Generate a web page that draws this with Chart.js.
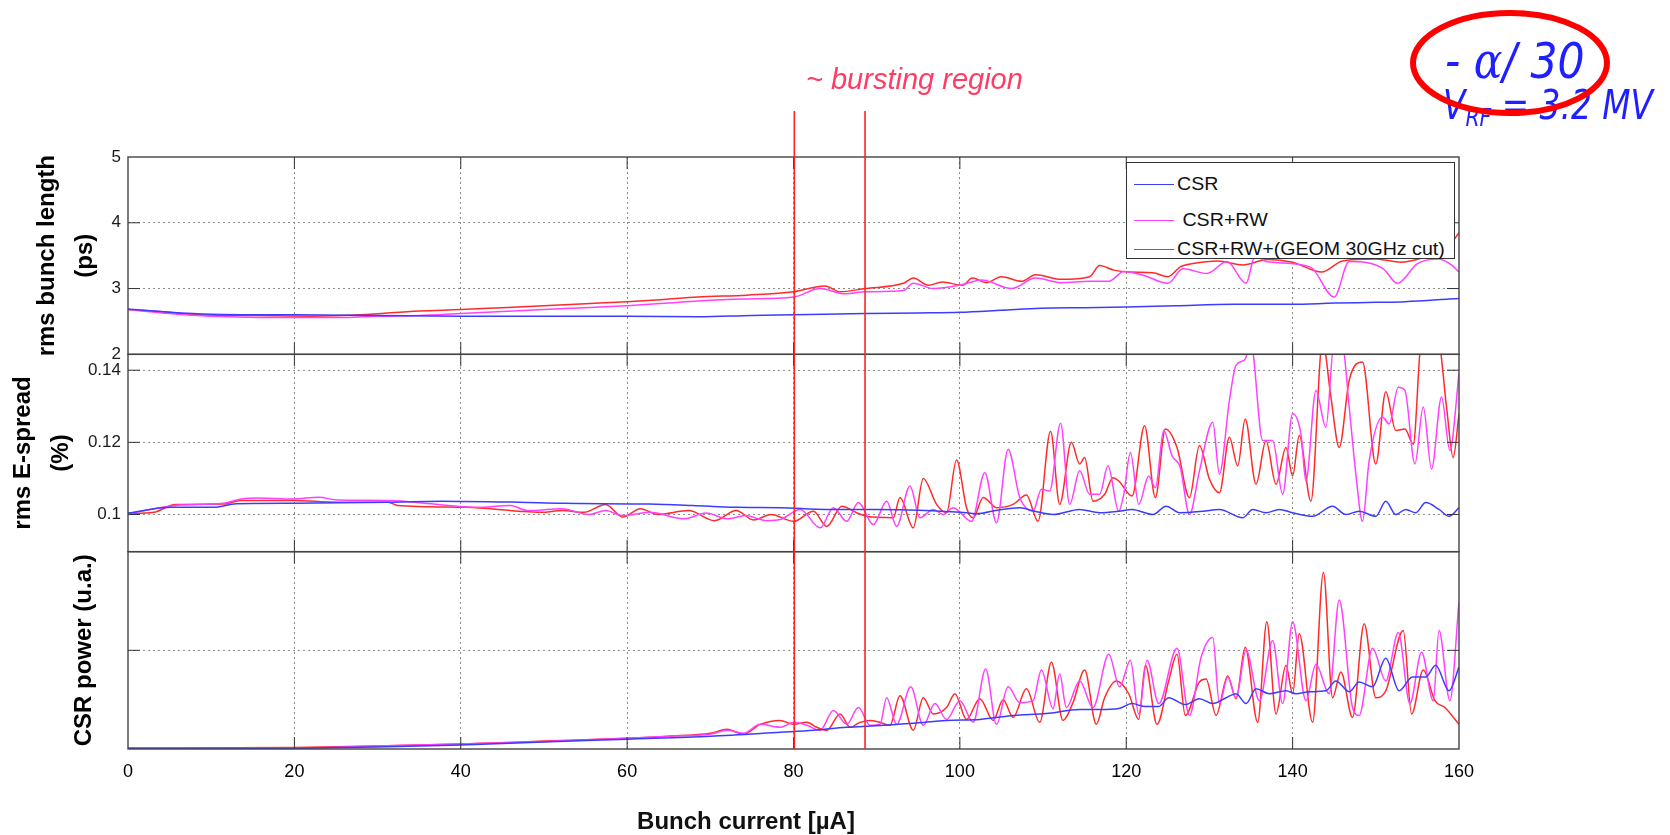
<!DOCTYPE html>
<html>
<head>
<meta charset="utf-8">
<script src="https://cdn.jsdelivr.net/npm/chart.js@4.4.0/dist/chart.umd.min.js"></script>
<style>
  html, body { margin: 0; padding: 0; background: #fff; }
  #wrap { position: relative; width: 1670px; height: 835px; overflow: hidden; }
  #myChart { position: absolute; left: 0; top: 0; }
  .txt { position: absolute; white-space: pre; }
  #burst { left: 806px; top: 63px; font: italic 29px 'Liberation Sans', Arial, sans-serif; line-height: 32px; color: #ff3c64; }
  #alpha { left: 1445px; top: 36px; font: italic 50px 'DejaVu Sans', sans-serif; line-height: 50px; color: #1f1fff; transform: scaleX(0.85); transform-origin: left center; }
  #alpha .g { font-family: 'DejaVu Serif', serif; }
  #vrf { left: 1443px; top: 85px; font: italic 40px 'DejaVu Sans', sans-serif; line-height: 40px; color: #1f1fff; transform: scaleX(0.82); transform-origin: left center; }
  #vrf sub { font-size: 0.62em; vertical-align: -0.3em; }
  #xTitle { left: 546px; top: 807px; width: 400px; text-align: center; font: bold 24px 'Liberation Sans', Arial, sans-serif; line-height: 28px; color: #111; }
  #legendBox { position: absolute; left: 1126px; top: 162px; width: 329px; height: 97px; box-sizing: border-box; border: 1px solid #333; background: #fff; }
  #legendBox .sw { position: absolute; left: 7px; width: 40px; height: 1px; }
  #legendBox .lt { position: absolute; left: 50px; font: 18px 'Liberation Sans', Arial, sans-serif; line-height: 20px; color: #111; white-space: pre; transform: scaleX(1.09); transform-origin: left center; }
  #ring { position: absolute; left: 0; top: 0; pointer-events: none; }
</style>
</head>
<body>
<div id="wrap">
  <canvas id="myChart" width="1670" height="835"></canvas>
  <div id="burst" class="txt">~ bursting region</div>
  <div id="alpha" class="txt">- <span class="g">α</span>/ 30</div>
  <div id="vrf" class="txt">V<sub>RF</sub> = 3.2 MV</div>
  <div id="xTitle" class="txt">Bunch current [µA]</div>
  <div id="legendBox"></div>
  <svg id="ring" width="1670" height="835"><ellipse cx="1510" cy="63" rx="97" ry="50" fill="none" stroke="#ff0000" stroke-width="6"/></svg>
</div>
<script>
// axis ticks and labels
const xTicks = [0, 20, 40, 60, 80, 100, 120, 140, 160];
const lenTicks = [2, 3, 4, 5];
const spreadTicks = [0.1, 0.12, 0.14];
const powerTicks = [1];
const seriesNames = ['CSR', ' CSR+RW', 'CSR+RW+(GEOM 30GHz cut)'];
const seriesColors = ['#3c3cff', '#ff40ff', '#ff2a2a'];
const burstLines = [80.1, 88.6];   // bunch current where the bursting region starts / ends
const burstTopLen = 5.7;           // lines reach a bit above the top panel

// [bunch current, rms bunch length (ps)]
const lenCSR = [[0,2.69],[5,2.64],[10,2.61],[20,2.60],[30,2.59],[40,2.58],[50,2.58],[60,2.58],[68.5,2.57],[75,2.59],[80,2.60],[88.6,2.62],[95,2.63],[100,2.64],[105,2.67],[109.7,2.70],[115,2.71],[120,2.72],[126,2.74],[133,2.76],[140,2.76],[145,2.78],[150,2.79],[153.5,2.80],[158.8,2.84],[160,2.85]];
const lenRW = [[0,2.68],[5,2.62],[10,2.58],[20,2.56],[26,2.56],[30,2.58],[35,2.59],[40,2.62],[45,2.65],[50,2.68],[55,2.71],[60,2.74],[65,2.78],[68.5,2.81],[74,2.84],[80,2.87],[83.2,3.0],[86.2,2.92],[88.6,2.95],[93.2,2.97],[94.4,3.08],[96.8,3.0],[100.3,3.06],[102.6,3.13],[106.2,3.0],[109.1,3.16],[112.1,3.09],[115.6,3.11],[117.9,3.11],[119.7,3.26],[122.1,3.20],[125,3.08],[126.8,3.30],[129.7,3.23],[132.1,3.41],[134.4,3.08],[135.5,3.5],[136.8,3.41],[142.1,3.33],[145,2.87],[146.8,3.41],[150.9,3.30],[152.6,3.08],[155,3.38],[157.5,3.45],[159.1,3.36],[160,3.25]];
const lenGeom = [[0,2.68],[5,2.64],[8,2.60],[15,2.59],[22,2.58],[28,2.60],[35,2.66],[40,2.68],[45,2.71],[50,2.74],[55,2.77],[60,2.80],[64,2.83],[68.5,2.87],[74.4,2.90],[80,2.95],[83.8,3.04],[85.6,2.95],[88.6,3.0],[93.2,3.08],[94.4,3.16],[96.2,3.05],[97.9,3.10],[100.3,3.05],[101.5,3.16],[103.2,3.09],[105,3.18],[107.4,3.11],[109.1,3.21],[112.1,3.14],[115.6,3.18],[116.8,3.35],[118.5,3.28],[120.3,3.25],[123.2,3.24],[125,3.18],[126.5,3.33],[128,3.38],[131,3.42],[134,3.36],[137,3.44],[140,3.40],[143.5,3.25],[146,3.42],[150,3.45],[153,3.40],[156,3.48],[158.5,3.6],[160,3.85]];

// [bunch current, rms energy spread (%)]
const spreadCSR = [[0,0.1004],[5.2,0.102],[10.4,0.102],[13,0.103],[19.8,0.1031],[31.3,0.1034],[37.6,0.1037],[47,0.1034],[52.2,0.1031],[62.7,0.1029],[67.9,0.1025],[73.1,0.102],[78.4,0.1019],[84,0.1014],[90,0.1014],[95,0.1012],[100.8,0.1005],[102,0.1002],[104.5,0.1012],[107.2,0.1019],[109,0.1009],[111.2,0.1],[114.4,0.1014],[116.8,0.1005],[119.1,0.1009],[120.7,0.1014],[123.2,0.1],[124.8,0.1023],[126.4,0.1005],[129.2,0.1009],[131.2,0.1014],[134,0.0991],[135.2,0.1014],[136.8,0.1005],[138.4,0.1014],[140,0.1005],[142.4,0.0995],[144.8,0.1023],[146.4,0.1],[148,0.1009],[150,0.0995],[151.2,0.1037],[152.4,0.1],[153.6,0.1014],[154.8,0.1005],[156,0.1033],[157.6,0.1014],[158.8,0.0995],[160,0.1019]];
const spreadRW = [[0,0.1002],[5.7,0.1025],[11.5,0.1031],[13.6,0.1043],[15.7,0.1046],[19.8,0.1043],[23,0.1048],[25.1,0.104],[31.3,0.1039],[41.8,0.102],[46,0.1025],[48,0.1011],[52.2,0.1016],[55.4,0.1],[57.4,0.1011],[59.5,0.0997],[62.7,0.1006],[66.8,0.0988],[69.5,0.1004],[72.1,0.0988],[74.2,0.0997],[76.8,0.0983],[78.4,0.0986],[80.8,0.1014],[83.2,0.0963],[84.8,0.1019],[86.4,0.0981],[87.8,0.1033],[89.6,0.0972],[91.2,0.1037],[92.4,0.0967],[94,0.1079],[95.2,0.0991],[96.8,0.1014],[98,0.1],[99.2,0.1019],[101.4,0.0981],[103,0.1116],[104.4,0.0977],[105.8,0.1181],[107.2,0.1047],[108.8,0.1009],[109.8,0.107],[110.8,0.1065],[112.1,0.1253],[113.2,0.1028],[114.4,0.1121],[115.6,0.1056],[116.8,0.1056],[117.8,0.1135],[119.1,0.1009],[119.7,0.1056],[120.5,0.1172],[121.5,0.1028],[122.7,0.1107],[123.5,0.1074],[124.5,0.1233],[125.5,0.1163],[126.5,0.113],[127.6,0.1],[128.8,0.1121],[130.4,0.1256],[131.2,0.1112],[132.4,0.1316],[133.2,0.1414],[134.2,0.1428],[135,0.147],[136.4,0.1205],[137.6,0.1205],[138.8,0.1056],[140,0.1279],[141,0.1223],[141.6,0.1093],[142.8,0.1344],[144,0.1242],[145,0.148],[146,0.147],[146.8,0.1298],[147.6,0.1112],[148.4,0.0981],[149.2,0.1149],[150.8,0.127],[151.6,0.1251],[152.7,0.1353],[153.5,0.1344],[154.7,0.114],[155.7,0.1298],[156.7,0.1126],[157.9,0.1326],[158.9,0.1177],[160,0.139]];
const spreadGeom = [[0,0.1002],[3.1,0.1006],[5.7,0.1028],[11.5,0.1029],[13.6,0.1039],[19.8,0.1039],[25.1,0.1034],[31.3,0.1034],[32.4,0.1025],[40.7,0.102],[47,0.1009],[49.6,0.1006],[52.2,0.1011],[54.8,0.1006],[57.4,0.1028],[59.5,0.0993],[61.6,0.1016],[63.7,0.1],[67.4,0.1011],[70.5,0.0983],[73.1,0.1011],[75.2,0.0985],[77.3,0.1],[80,0.0981],[82.4,0.1009],[84,0.0967],[85.8,0.1023],[87.6,0.1005],[88.8,0.0995],[92,0.0991],[92.8,0.1047],[94.4,0.0963],[95.6,0.11],[97.2,0.1028],[98.4,0.1005],[99.6,0.1151],[100.8,0.1019],[101.6,0.0991],[102.8,0.1047],[104.4,0.1019],[106.4,0.1028],[108,0.1054],[109.4,0.0981],[110.9,0.1231],[112,0.1028],[113.4,0.12],[114.4,0.114],[115,0.1158],[116,0.1037],[117.4,0.1056],[118.4,0.1102],[119.1,0.1093],[120.7,0.1051],[122.2,0.1246],[123.5,0.1047],[124.7,0.1237],[126.1,0.1186],[127.6,0.1047],[128.8,0.1191],[130,0.1098],[131.2,0.106],[132.4,0.1214],[133.4,0.1135],[134.3,0.1265],[135.6,0.1084],[136.8,0.1205],[138,0.1084],[139.2,0.1186],[140,0.1107],[140.8,0.1219],[142.2,0.1037],[143.6,0.148],[144.6,0.1326],[145.6,0.1186],[146.8,0.1372],[148.4,0.1423],[150,0.114],[151.2,0.134],[152.4,0.1233],[153.5,0.1237],[154.5,0.1195],[155.5,0.148],[157.5,0.148],[158.5,0.1298],[159.3,0.1158],[160,0.1279]];

// [bunch current, CSR power (a.u.)]
const powerCSR = [[0,0.005],[20,0.008],[30,0.02],[40,0.04],[50,0.07],[60,0.10],[70,0.13],[78.4,0.17],[82.4,0.19],[86.4,0.22],[88.7,0.23],[94.4,0.26],[98.4,0.29],[102.4,0.30],[106.4,0.34],[110.4,0.36],[114.4,0.40],[116.8,0.40],[119.1,0.41],[120.7,0.46],[122.3,0.43],[123.9,0.43],[125.1,0.52],[127.1,0.45],[128.8,0.51],[130.4,0.46],[132,0.52],[133.2,0.56],[134.4,0.46],[135.6,0.61],[137.2,0.56],[139.2,0.59],[140.4,0.56],[142,0.58],[144,0.59],[145.2,0.69],[146.8,0.58],[148,0.68],[149.6,0.63],[151.2,0.92],[152.8,0.59],[154.4,0.73],[156,0.73],[157.2,0.85],[158.8,0.59],[160,0.83]];
const powerRW = [[0,0.01],[20,0.012],[30,0.03],[40,0.05],[50,0.075],[60,0.11],[65,0.13],[70,0.15],[72,0.19],[74,0.16],[76,0.25],[78.4,0.22],[80,0.27],[81.6,0.24],[83.2,0.19],[84.8,0.39],[86.4,0.25],[87.8,0.42],[89.2,0.24],[90.4,0.25],[91.2,0.52],[92.4,0.25],[94.1,0.63],[95.6,0.24],[97,0.46],[98.4,0.30],[100,0.49],[101.6,0.27],[103.1,0.81],[104.4,0.25],[105.8,0.63],[107.2,0.47],[108.8,0.49],[109.8,0.80],[111.2,0.41],[112,0.76],[112.8,0.42],[114.4,0.69],[116,0.42],[117.9,0.96],[119.2,0.63],[120.5,0.90],[121.5,0.355],[122.5,0.90],[123.9,0.46],[126.1,1.02],[127.6,0.34],[129,0.93],[130.4,1.13],[131.2,0.46],[132.2,0.73],[133.2,0.52],[134.4,1.0],[136,0.49],[137.6,1.10],[138.8,0.46],[140,1.29],[141.6,0.49],[142.8,0.86],[144.4,0.56],[145.6,1.51],[147.2,0.42],[148,0.34],[149.6,1.02],[151.2,0.69],[152.7,1.18],[154.1,0.46],[155.5,0.98],[156.9,0.49],[157.6,1.20],[158.9,0.49],[160,1.49]];
const powerGeom = [[0,0.01],[20,0.015],[30,0.03],[40,0.05],[50,0.08],[60,0.11],[65,0.13],[70,0.16],[72,0.2],[74,0.15],[76,0.25],[78.4,0.29],[80,0.25],[81.6,0.27],[82.8,0.22],[84,0.19],[85.6,0.355],[86.8,0.22],[88,0.27],[89.2,0.29],[90.4,0.27],[91.6,0.24],[92.8,0.54],[94.4,0.19],[95.6,0.52],[96.8,0.355],[98.4,0.42],[99.4,0.56],[100.8,0.30],[102.4,0.51],[104,0.29],[105.2,0.50],[106.4,0.32],[108,0.61],[109.6,0.27],[111,0.88],[112.4,0.29],[113.6,0.47],[115,0.80],[116.4,0.25],[117.4,0.52],[118.8,0.69],[120.3,0.56],[121.5,0.30],[122.3,0.85],[123.7,0.25],[125.1,0.69],[126.1,0.96],[127.1,0.34],[128.8,0.68],[129.6,0.71],[130.8,0.34],[132.2,0.74],[133.2,0.51],[134.3,1.03],[135.8,0.27],[136.9,1.29],[138,0.355],[139.2,0.85],[140,0.56],[140.8,1.17],[142.4,0.27],[143.7,1.79],[144.8,0.52],[145.8,0.78],[147.2,0.32],[148.6,1.27],[150,0.52],[151.2,0.59],[153.3,1.20],[154.3,0.355],[155.7,0.80],[157.1,0.49],[158.3,0.42],[160,0.25]];

Chart.defaults.font.family = "'Liberation Sans', Arial, sans-serif";

function line(label, pts, color, axis) {
  return {
    label: label,
    data: pts.map(p => ({ x: p[0], y: p[1] })),
    borderColor: color,
    borderWidth: 1.5,
    pointRadius: 0,
    fill: false,
    cubicInterpolationMode: 'monotone',
    yAxisID: axis
  };
}

function panelAxis(min, max, ticks, weight, title, titlePad, fmt) {
  return {
    type: 'linear', position: 'left', stack: 'panels', stackWeight: 1, weight: weight,
    min: min, max: max,
    afterBuildTicks: s => { s.ticks = ticks.map(v => ({ value: v })); },
    afterFit: s => { s.width = 128; },
    ticks: { font: { size: 17 }, color: '#1a1a1a', padding: 7, callback: fmt },
    grid: {
      color: c => (c.tick && (c.tick.value === min || c.tick.value === max)) ? 'rgba(0,0,0,0)' : '#8a8a8a',
      drawTicks: false, lineWidth: 1
    },
    border: { display: false, dash: [2, 3] },
    title: {
      display: true, text: title, color: '#000',
      font: { size: 24, weight: 'bold', lineHeight: 1.6 },
      padding: { top: titlePad, bottom: 0 }
    }
  };
}

// panel frames, inner tick marks, clipping per panel and the bursting-region markers
const panelFrame = {
  id: 'panelFrame',
  beforeDatasetDraw(chart, args) {
    const ys = args.meta.yScale, a = chart.chartArea, ctx = chart.ctx;
    ctx.save();
    ctx.beginPath();
    ctx.rect(a.left, ys.top, a.right - a.left, ys.bottom - ys.top);
    ctx.clip();
  },
  afterDatasetDraw(chart) {
    chart.ctx.restore();
  },
  afterDatasetsDraw(chart) {
    const ctx = chart.ctx, a = chart.chartArea, x = chart.scales.x;
    const panels = [chart.scales.yLen, chart.scales.ySpread, chart.scales.yPower];
    ctx.save();
    ctx.strokeStyle = '#333';
    ctx.lineWidth = 1;
    panels.forEach(p => {
      ctx.beginPath();
      xTicks.slice(1, -1).forEach(v => {
        const px = x.getPixelForValue(v);
        ctx.moveTo(px, p.top); ctx.lineTo(px, p.top + 12);
        ctx.moveTo(px, p.bottom); ctx.lineTo(px, p.bottom - 12);
      });
      p.ticks.forEach(t => {
        const py = p.getPixelForValue(t.value);
        if (py <= p.top + 1 || py >= p.bottom - 1) return;
        ctx.moveTo(a.left, py); ctx.lineTo(a.left + 12, py);
        ctx.moveTo(a.right, py); ctx.lineTo(a.right - 12, py);
      });
      ctx.stroke();
    });
    ctx.lineWidth = 1.4;
    ctx.strokeStyle = '#444';
    panels.forEach(p => ctx.strokeRect(a.left, p.top, a.right - a.left, p.bottom - p.top));
    ctx.strokeStyle = '#ff2424';
    ctx.lineWidth = 1.6;
    const yTop = chart.scales.yLen.getPixelForValue(burstTopLen);
    burstLines.forEach(v => {
      const px = x.getPixelForValue(v);
      ctx.beginPath(); ctx.moveTo(px, yTop); ctx.lineTo(px, a.bottom); ctx.stroke();
    });
    ctx.restore();
  }
};

const graph = new Chart('myChart', {
  type: 'line',
  data: {
    datasets: [
      line(seriesNames[0], lenCSR, seriesColors[0], 'yLen'),
      line(seriesNames[1], lenRW, seriesColors[1], 'yLen'),
      line(seriesNames[2], lenGeom, seriesColors[2], 'yLen'),
      line(seriesNames[0], spreadCSR, seriesColors[0], 'ySpread'),
      line(seriesNames[1], spreadRW, seriesColors[1], 'ySpread'),
      line(seriesNames[2], spreadGeom, seriesColors[2], 'ySpread'),
      line(seriesNames[0], powerCSR, seriesColors[0], 'yPower'),
      line(seriesNames[1], powerRW, seriesColors[1], 'yPower'),
      line(seriesNames[2], powerGeom, seriesColors[2], 'yPower')
    ]
  },
  options: {
    responsive: false,
    animation: false,
    devicePixelRatio: 1,
    layout: { padding: { left: 0, top: 157, right: 211, bottom: 0 } },
    plugins: { legend: { display: false }, tooltip: { enabled: false } },
    scales: {
      x: {
        type: 'linear', position: 'bottom', min: 0, max: 160,
        afterBuildTicks: s => { s.ticks = xTicks.map(v => ({ value: v })); },
        afterFit: s => { s.height = 86; },
        ticks: { font: { size: 18 }, color: '#000', padding: 12, maxRotation: 0, autoSkip: false },
        grid: {
          color: c => (c.tick && (c.tick.value === 0 || c.tick.value === 160)) ? 'rgba(0,0,0,0)' : '#8a8a8a',
          drawTicks: false, lineWidth: 1
        },
        border: { display: false, dash: [2, 3] }
      },
      yLen: panelAxis(2, 5, lenTicks, 3, ['rms bunch length', '(ps)'], 28, v => String(v)),
      ySpread: panelAxis(0.0897, 0.1444, spreadTicks, 2, ['rms E-spread', '(%)'], 4, v => v === 0.1 ? '0.1' : v.toFixed(2)),
      yPower: panelAxis(0, 2, powerTicks, 1, 'CSR power (u.a.)', 65, () => '')
    }
  },
  plugins: [panelFrame]
});

// legend box drawn over the top panel
const box = document.getElementById('legendBox');
const rowY = [21, 57, 86];
seriesNames.forEach((name, i) => {
  const sw = document.createElement('div');
  sw.className = 'sw';
  sw.style.top = rowY[i] + 'px';
  sw.style.background = seriesColors[i];
  box.appendChild(sw);
  const lt = document.createElement('div');
  lt.className = 'lt';
  lt.style.top = (rowY[i] - 10) + 'px';
  lt.textContent = name;
  box.appendChild(lt);
});
</script>
</body>
</html>
